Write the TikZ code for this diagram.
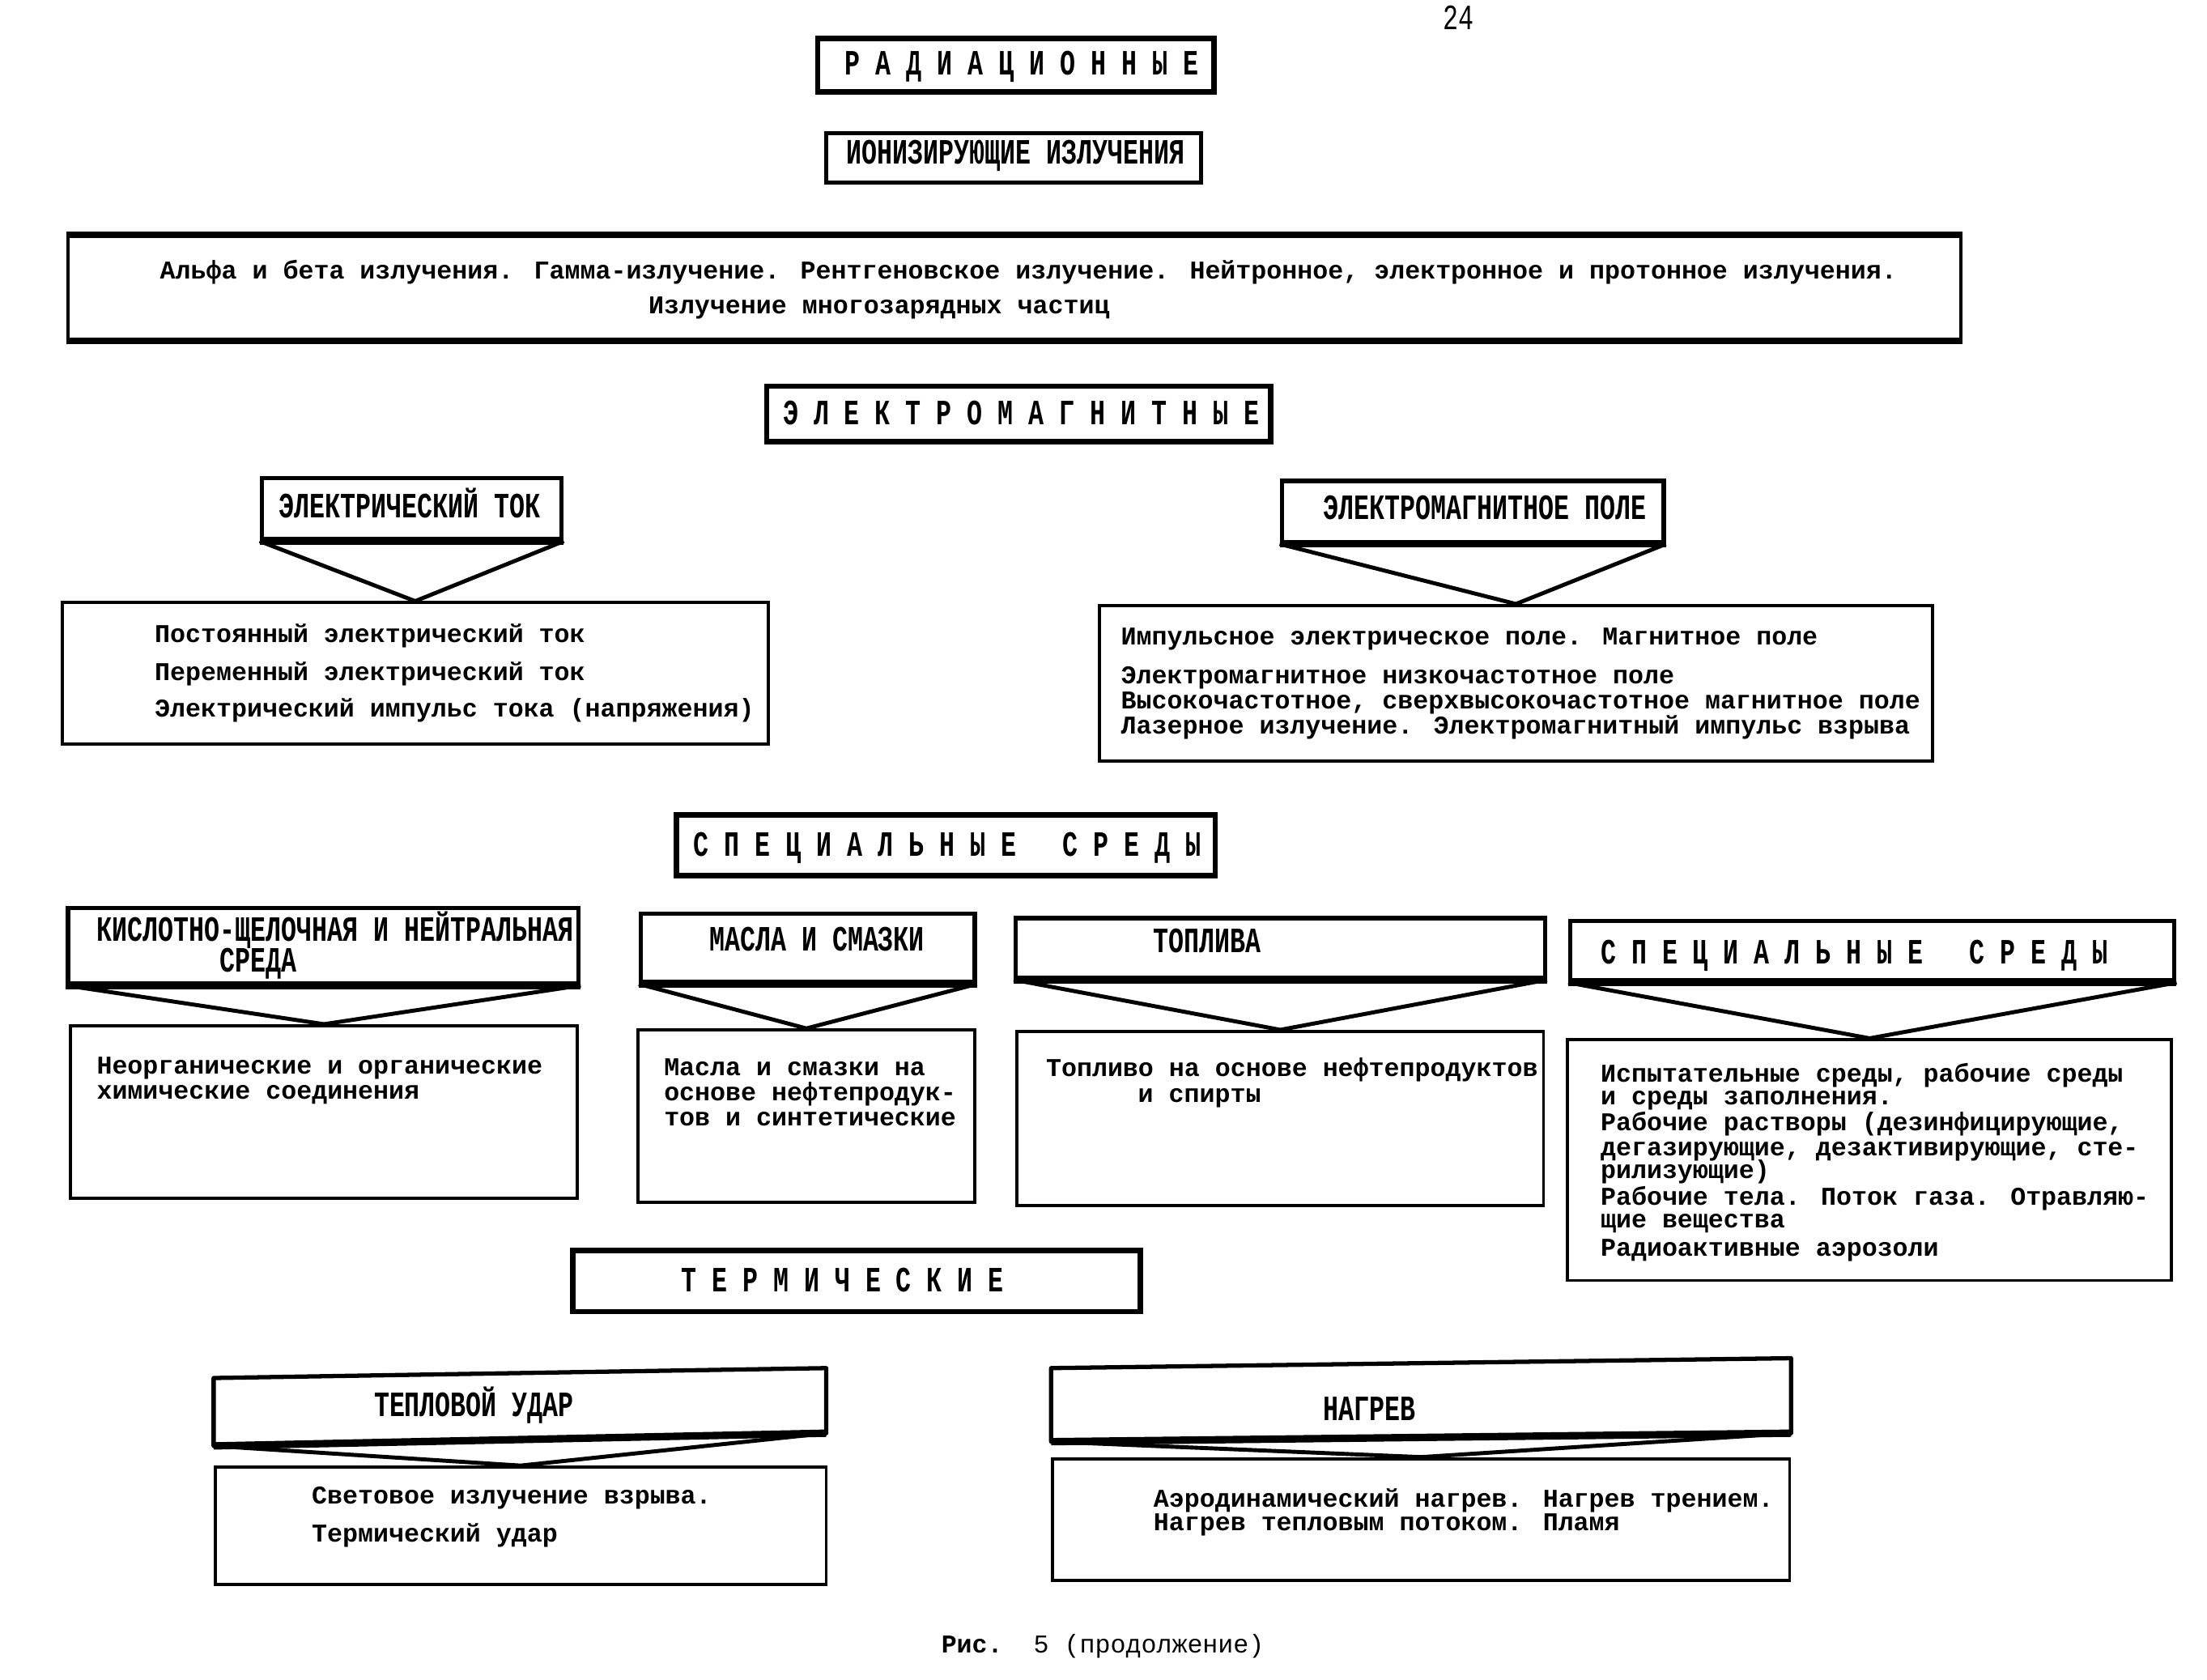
\documentclass[tikz,border=0pt]{standalone}
\usepackage{fontspec}
\usepackage{graphicx}
\setmonofont{Liberation Mono}
\newfontfamily\bodyfont{Liberation Mono}
\newfontfamily\hdrfont{Liberation Mono}[FakeStretch=0.72]
\usetikzlibrary{fit}
\tikzset{
  mainhdr/.style={draw, line width=1.9pt, inner sep=0pt},
  hdr/.style={draw, line width=1.5pt, inner sep=0pt},
  hdrline/.style={line width=1.5pt, line join=round},
  cbox/.style={draw, line width=1.1pt, inner sep=0pt},
  tri/.style={line width=1.4pt, line join=miter},
  botline/.style={line width=2.6pt},
  edgeline/.style={line width=2pt},
  body/.style={inner sep=0pt, anchor=base west, font=\bodyfont\bfseries\fontsize{9}{11}\selectfont},
  htxt/.style={inner sep=0pt, anchor=base west, font=\hdrfont\bfseries\fontsize{12.5}{14}\selectfont},
  stxt/.style={inner sep=0pt, anchor=base west, font=\hdrfont\bfseries\fontsize{12.5}{14}\selectfont},
  pgtxt/.style={inner sep=0pt, anchor=base, font=\hdrfont\fontsize{12.5}{14}\selectfont},
}
\begin{document}
\begin{tikzpicture}[x=0.01747cm, y=-0.01747cm]
\useasboundingbox (0,0) rectangle (1560,1187);

% page number
\node[pgtxt] (pg) at (1031,21) {24};

% ---------- RADIATION ----------
\node[mainhdr, fit={(578,27) (858,65)}] (rad) {};
\node[stxt] (radT) at (597,53) {Р~А~Д~И~А~Ц~И~О~Н~Н~Ы~Е};

\node[hdr, fit={(584,94) (849,129)}] (ion) {};
\node[htxt] (ionT) at (598,116) {ИОНИЗИРУЮЩИЕ ИЗЛУЧЕНИЯ};

\node[cbox, fit={(48,167) (1386,240)}] (alpha) {};
\draw[edgeline] (alpha.north west) -- (alpha.north east);
\draw[edgeline] (alpha.south west) -- (alpha.south east);
\node[body, anchor=base] (alphaA) at (727,197) {Альфа и бета излучения. Гамма-излучение. Рентгеновское излучение. Нейтронное, электронное и протонное излучения.};
\node[body] (alphaB) at (458,222) {Излучение многозарядных частиц};

% ---------- ELECTROMAGNETIC ----------
\node[mainhdr, fit={(542,273) (898,312)}] (em) {};
\node[stxt] (emT) at (553,300) {Э~Л~Е~К~Т~Р~О~М~А~Г~Н~И~Т~Н~Ы~Е};

\node[hdr, fit={(185,338) (397,381)}] (elh) {};
\draw[botline] (elh.south west) -- (elh.south east);
\node[htxt] (elhT) at (197,366) {ЭЛЕКТРИЧЕСКИЙ ТОК};
\node[cbox, fit={(44,426) (543,526)}] (elc) {};
\draw[tri] (elh.south west) -- (elc.north) -- (elh.south east);
\node[body] (elc1) at (109,454) {Постоянный электрический ток};
\node[body] (elc2) at (109,481) {Переменный электрический ток};
\node[body] (elc3) at (109,507) {Электрический импульс тока (напряжения)};

\node[hdr, fit={(906,340) (1176,383)}] (emh) {};
\draw[botline] (emh.south west) -- (emh.south east);
\node[htxt] (emhT) at (935,367) {ЭЛЕКТРОМАГНИТНОЕ ПОЛЕ};
\node[cbox, fit={(777,428) (1366,538)}] (emc) {};
\draw[tri] (emh.south west) -- (emc.north) -- (emh.south east);
\node[body] (emc1) at (792,456) {Импульсное электрическое поле. Магнитное поле};
\node[body] (emc2) at (792,483) {Электромагнитное низкочастотное поле};
\node[body] (emc3) at (792,501) {Высокочастотное, сверхвысокочастотное магнитное поле};
\node[body] (emc4) at (792,519) {Лазерное излучение. Электромагнитный импульс взрыва};

% ---------- SPECIAL MEDIA ----------
\node[mainhdr, fit={(478,576) (859,619)}] (spec) {};
\node[stxt] (specT) at (490,605) {С~П~Е~Ц~И~А~Л~Ь~Н~Ы~Е~~~С~Р~Е~Д~Ы};

\node[hdr, fit={(48,642) (409,695)}] (kh) {};
\draw[botline] (kh.south west) -- (kh.south east);
\node[htxt] (khT1) at (68,665) {КИСЛОТНО-ЩЕЛОЧНАЯ И НЕЙТРАЛЬНАЯ};
\node[htxt] (khT2) at (155,687) {СРЕДА};
\node[cbox, fit={(50,725) (408,847)}] (kc) {};
\draw[tri] (kh.south west) -- (kc.north) -- (kh.south east);
\node[body] (kc1) at (68,759) {Неорганические и органические};
\node[body] (kc2) at (68,777) {химические соединения};

\node[hdr, fit={(453,646) (689,694)}] (mh) {};
\draw[botline] (mh.south west) -- (mh.south east);
\node[htxt] (mhT) at (501,672) {МАСЛА И СМАЗКИ};
\node[cbox, fit={(451,728) (689,850)}] (mc) {};
\draw[tri] (mh.south west) -- (mc.north) -- (mh.south east);
\node[body] (mc1) at (469,760) {Масла и смазки на};
\node[body] (mc2) at (469,778) {основе нефтепродук-};
\node[body] (mc3) at (469,796) {тов и синтетические};

\node[hdr, fit={(718,649) (1092,691)}] (th) {};
\draw[botline] (th.south west) -- (th.south east);
\node[htxt] (thT) at (815,673) {ТОПЛИВА};
\node[cbox, fit={(719,729) (1091,852)}] (tc) {};
\draw[tri] (th.south west) -- (tc.north) -- (th.south east);
\node[body] (tc1) at (739,761) {Топливо на основе нефтепродуктов};
\node[body] (tc2) at (804,779) {и спирты};

\node[hdr, fit={(1110,651) (1537,693)}] (sh) {};
\draw[botline] (sh.south west) -- (sh.south east);
\node[stxt] (shT) at (1131,681) {С~П~Е~Ц~И~А~Л~Ь~Н~Ы~Е~~~С~Р~Е~Д~Ы};
\node[cbox, fit={(1108,735) (1535,905)}] (sc) {};
\draw[tri] (sh.south west) -- (sc.north) -- (sh.south east);
\node[body] (sc1) at (1131,765) {Испытательные среды, рабочие среды};
\node[body] (sc2) at (1131,781) {и среды заполнения.};
\node[body] (sc3) at (1131,799) {Рабочие растворы (дезинфицирующие,};
\node[body] (sc4) at (1131,817) {дегазирующие, дезактивирующие, сте-};
\node[body] (sc5) at (1131,833) {рилизующие)};
\node[body] (sc6) at (1131,852) {Рабочие тела. Поток газа. Отравляю-};
\node[body] (sc7) at (1131,868) {щие вещества};
\node[body] (sc8) at (1131,888) {Радиоактивные аэрозоли};

% ---------- THERMAL ----------
\node[mainhdr, fit={(405,884) (806,927)}] (term) {};
\node[stxt] (termT) at (481,913) {Т~Е~Р~М~И~Ч~Е~С~К~И~Е};

% heat shock (slightly skewed header)
\coordinate (tuhTL) at (151,974);
\coordinate (tuhTR) at (584,967);
\coordinate (tuhBR) at (584,1013);
\coordinate (tuhBL) at (151,1022);
\draw[hdrline] (tuhTL) -- (tuhTR) -- (tuhBR) -- (tuhBL) -- cycle;
\draw[botline] (tuhBL) -- (tuhBR);
\node[htxt] (tuhT) at (264,1001) {ТЕПЛОВОЙ УДАР};
\node[cbox, fit={(152,1037) (584,1120)}] (tuc) {};
\draw[tri] (tuhBL) -- (tuc.north) -- (tuhBR);
\node[body] (tuc1) at (220,1063) {Световое излучение взрыва.};
\node[body] (tuc2) at (220,1090) {Термический удар};

% heating (slightly skewed header)
\coordinate (nhTL) at (743,967);
\coordinate (nhTR) at (1266,960);
\coordinate (nhBR) at (1266,1013);
\coordinate (nhBL) at (743,1019);
\draw[hdrline] (nhTL) -- (nhTR) -- (nhBR) -- (nhBL) -- cycle;
\draw[botline] (nhBL) -- (nhBR);
\node[htxt] (nhT) at (935,1004) {НАГРЕВ};
\node[cbox, fit={(744,1031) (1265,1117)}] (nc) {};
\draw[tri] (nhBL) -- (nc.north) -- (nhBR);
\node[body] (nc1) at (815,1065) {Аэродинамический нагрев. Нагрев трением.};
\node[body] (nc2) at (815,1082) {Нагрев тепловым потоком. Пламя};

% caption
\node[inner sep=0pt, anchor=base west, font=\bodyfont\fontsize{9}{11}\selectfont] (cap) at (665,1168) {{\bfseries Рис.}~~5~(продолжение)};
\end{tikzpicture}
\end{document}
